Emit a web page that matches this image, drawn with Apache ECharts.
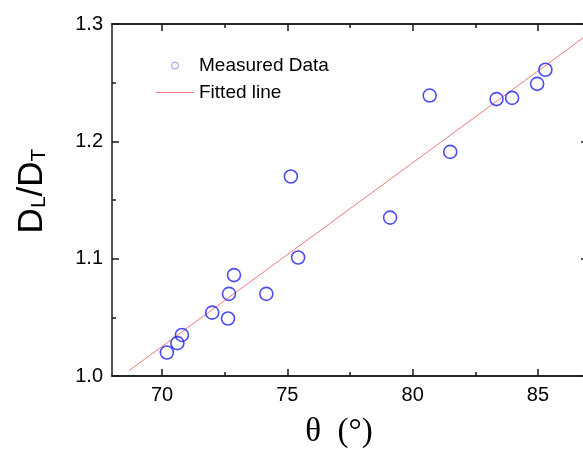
<!DOCTYPE html>
<html>
<head>
<meta charset="utf-8">
<script src="https://cdn.jsdelivr.net/npm/echarts@6/dist/echarts.min.js"></script>
<style>
  html, body { margin: 0; padding: 0; background: #fff; }
  #main { width: 583px; height: 449px; }
</style>
</head>
<body>
<div id="main"></div>
<script>
// measured points (theta in degrees, DL/DT)
var thetaVals = [70.19, 70.61, 70.79, 72.0, 72.63, 72.67, 72.87, 74.16, 75.14, 75.43, 79.1, 80.68, 81.5, 83.35, 83.97, 84.97, 85.3];
var ratioVals = [1.020, 1.028, 1.035, 1.054, 1.049, 1.070, 1.086, 1.070, 1.170, 1.101, 1.135, 1.239, 1.191, 1.236, 1.237, 1.249, 1.261];
// fitted line end points
var fitX = [68.68, 87.0];
var fitY = [1.0046, 1.2912];
var xMajor = [70, 75, 80, 85];
var xMinor = [72.5, 77.5, 82.5];

var measured = thetaVals.map(function (t, i) { return [t, ratioVals[i]]; });
var fitted = fitX.map(function (t, i) { return [t, fitY[i]]; });

var myChart = echarts.init(document.getElementById('main'));

var axisCol = '#1a1a1a';
var font = 'Liberation Sans, Arial, sans-serif';

function xAx(pos, vals, len, labels) {
    return {
        type: 'value',
        position: pos,
        min: 68,
        max: 87,
        axisLine: { show: true, onZero: false, lineStyle: { color: axisCol, width: 1.5 } },
        axisTick: { show: true, inside: true, length: len, customValues: vals, lineStyle: { color: axisCol, width: 1.5 } },
        axisLabel: labels ? { show: true, customValues: vals, fontSize: 20, color: '#000', fontFamily: font, margin: 9 } : { show: false },
        splitLine: { show: false }
    };
}

option = {
    animation: false,
    grid: {
        left: 112,
        top: 24,
        width: 476,
        height: 352,
        containLabel: false,
        outerBoundsMode: 'none'
    },
    legend: {
        left: 151,
        top: 51,
        orient: 'vertical',
        itemWidth: 38,
        itemHeight: 7,
        itemGap: 8,
        itemTextGap: 7,
        textStyle: { fontSize: 19, color: '#000', fontFamily: font },
        data: [
            { name: 'Measured Data', icon: 'circle', itemStyle: { color: 'rgba(255,255,255,0)', borderColor: '#7878ff', borderWidth: 1 } },
            { name: 'Fitted line', icon: 'path://M0,0 L38,0 L38,1 L0,1 Z', itemStyle: { color: '#f07a7a', borderWidth: 0 } }
        ]
    },
    xAxis: [
        Object.assign(xAx('bottom', xMajor, 7, true), {
            name: 'θ  (°)',
            nameLocation: 'middle',
            nameGap: 40,
            nameTextStyle: { fontSize: 33, color: '#000', fontFamily: 'Liberation Serif, Times New Roman, serif', padding: [0, 22, 0, 0] }
        }),
        xAx('bottom', xMinor, 4, false),
        xAx('top', xMajor, 7, false),
        xAx('top', xMinor, 4, false)
    ],
    yAxis: [
        {
            type: 'value',
            position: 'left',
            min: 1.0,
            max: 1.3,
            interval: 0.1,
            name: '{b|D}{s|L}{b|/D}{s|T}',
            nameLocation: 'middle',
            nameGap: 62,
            nameTextStyle: {
                padding: [0, 0, 0, 18],
                rich: {
                    b: { fontSize: 35, color: '#000', fontFamily: font },
                    s: { fontSize: 21, color: '#000', fontFamily: font, verticalAlign: 'bottom', padding: [14, 0, 0, 0] }
                }
            },
            axisLine: { show: true, onZero: false, lineStyle: { color: axisCol, width: 1.5 } },
            axisTick: { inside: true, length: 7, lineStyle: { color: axisCol, width: 1.5 } },
            minorTick: { show: true, splitNumber: 2, length: 4, lineStyle: { color: axisCol, width: 1.5 } },
            axisLabel: {
                fontSize: 20, color: '#000', fontFamily: font, margin: 9,
                formatter: function (v) { return v.toFixed(1); }
            },
            splitLine: { show: false }
        },
        {
            type: 'value',
            position: 'right',
            min: 1.0,
            max: 1.3,
            interval: 0.1,
            axisLine: { show: true, onZero: false, lineStyle: { color: axisCol, width: 1.5 } },
            axisTick: { inside: true, length: 7, lineStyle: { color: axisCol, width: 1.5 } },
            minorTick: { show: true, splitNumber: 2, length: 4, lineStyle: { color: axisCol, width: 1.5 } },
            axisLabel: { show: false },
            splitLine: { show: false }
        }
    ],
    series: [
        {
            name: 'Measured Data',
            type: 'scatter',
            data: measured,
            symbol: 'circle',
            symbolSize: 13,
            itemStyle: { color: 'rgba(255,255,255,0)', borderColor: '#1f1ff0', borderWidth: 1.6 }
        },
        {
            name: 'Fitted line',
            type: 'line',
            data: fitted,
            symbol: 'none',
            lineStyle: { color: '#f07a7a', width: 1 },
            z: 1
        }
    ]
};

myChart.setOption(option);
</script>
</body>
</html>
